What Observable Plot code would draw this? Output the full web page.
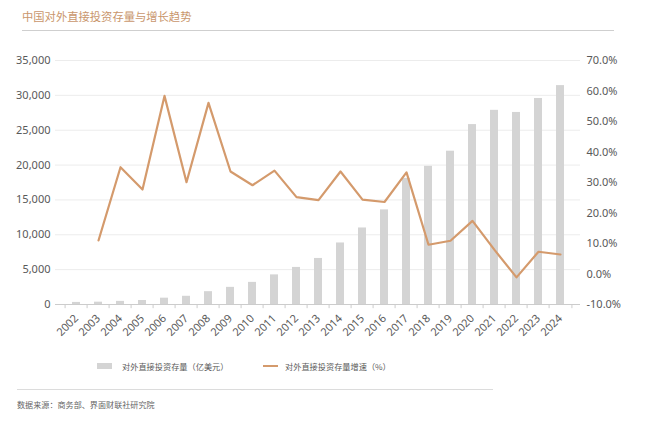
<!DOCTYPE html>
<html><head><meta charset="utf-8">
<script src="https://cdn.jsdelivr.net/npm/d3@7"></script>
<script src="https://cdn.jsdelivr.net/npm/@observablehq/plot@0.6"></script>
<style>
body{margin:0;background:#fff;font-family:"Noto Sans CJK SC","Noto Sans",sans-serif;}
#wrap{position:relative;width:651px;height:435px;overflow:hidden;}
#title{position:absolute;left:22px;top:8px;font-size:11.3px;line-height:16px;color:#c9966c;}
#tline{position:absolute;left:22px;top:30px;width:592px;height:1px;background:#cfcfcf;}
#chart{position:absolute;left:0;top:40px;}
.leg{position:absolute;top:360px;font-size:8.2px;line-height:12px;color:#595959;}
#bline{position:absolute;left:17px;top:389px;width:476px;height:1px;background:#dcdcdc;}
#cap{position:absolute;left:17px;top:399px;font-size:8.1px;line-height:12px;color:#666;}
</style></head>
<body><div id="wrap">
<div id="title">中国对外直接投资存量与增长趋势</div>
<div id="tline"></div>
<div id="chart"></div>
<div style="position:absolute;left:97px;top:363px;width:15px;height:6px;background:#d4d4d4"></div>
<div class="leg" style="left:122px">对外直接投资存量（亿美元）</div>
<div style="position:absolute;left:263px;top:365px;width:15px;height:2px;background:#d49a6c"></div>
<div class="leg" style="left:285px">对外直接投资存量增速（%）</div>
<div id="bline"></div>
<div id="cap">数据来源：商务部、界面财联社研究院</div>
</div>
<script>
const years = ["2002","2003","2004","2005","2006","2007","2008","2009","2010","2011","2012","2013","2014","2015","2016","2017","2018","2019","2020","2021","2022","2023","2024"];
const stock = [299,332,448,572,906,1179,1840,2458,3172,4248,5319,6605,8826,10979,13574,18090,19823,21989,25807,27852,27548,29554,31400];
const growthYears = years.slice(1);
const growth = [11.0,35.0,27.7,58.4,30.1,56.1,33.6,29.1,33.9,25.2,24.2,33.6,24.4,23.6,33.3,9.6,10.9,17.4,7.9,-1.1,7.3,6.4];
const leftTicks = [0,5000,10000,15000,20000,25000,30000,35000];
const rightTicks = [-10,0,10,20,30,40,50,60,70];

const k = 35000/80;
const toLeft = g => (g + 10) * k;
const bars = years.map((y,i)=>({year:y, v:stock[i]}));
const line = growthYears.map((y,i)=>({year:y, g:growth[i]}));
const step = 525/23;

const chart = Plot.plot({
  width: 651, height: 320,
  marginLeft: 55, marginRight: 71, marginTop: 20, marginBottom: 56,
  style: {fontFamily: "'Noto Sans','Noto Sans CJK SC',sans-serif", fontSize: "11px", color: "#595959", background: "transparent"},
  x: {domain: years, paddingInner: 0.65, paddingOuter: 0.325},
  y: {domain: [0, 35000]},
  marks: [
    Plot.ruleY(leftTicks.slice(1), {stroke: "#ececec", strokeWidth: 1}),
    Plot.barY(bars, {x: "year", y: "v", fill: "#d4d4d4"}),
    Plot.ruleY([0], {stroke: "#cccccc"}),
    Plot.ruleX(years, {x: d => d, y1: 0, y2: -600, dx: -step/2, stroke: "#cccccc", clip: false}),
    Plot.ruleX(["2024"], {x: d => d, y1: 0, y2: -600, dx: step/2, stroke: "#cccccc"}),
    Plot.lineY(line, {x: "year", y: d => toLeft(d.g), stroke: "#d49a6c", strokeWidth: 2.2}),
    Plot.axisY({anchor: "left", ticks: leftTicks, tickFormat: d3.format(","), tickSize: 0, tickPadding: 5, label: null, fill: "#595959"}),
    Plot.axisY({anchor: "right", ticks: rightTicks.map(toLeft), tickFormat: d => (d / k - 10).toFixed(1) + "%", tickSize: 0, tickPadding: 6, label: null, fill: "#595959"}),
    Plot.axisX({tickRotate: -45, tickSize: 0, tickPadding: 12, label: null, fill: "#595959"})
  ]
});
document.getElementById("chart").appendChild(chart);
</script>
</body></html>
